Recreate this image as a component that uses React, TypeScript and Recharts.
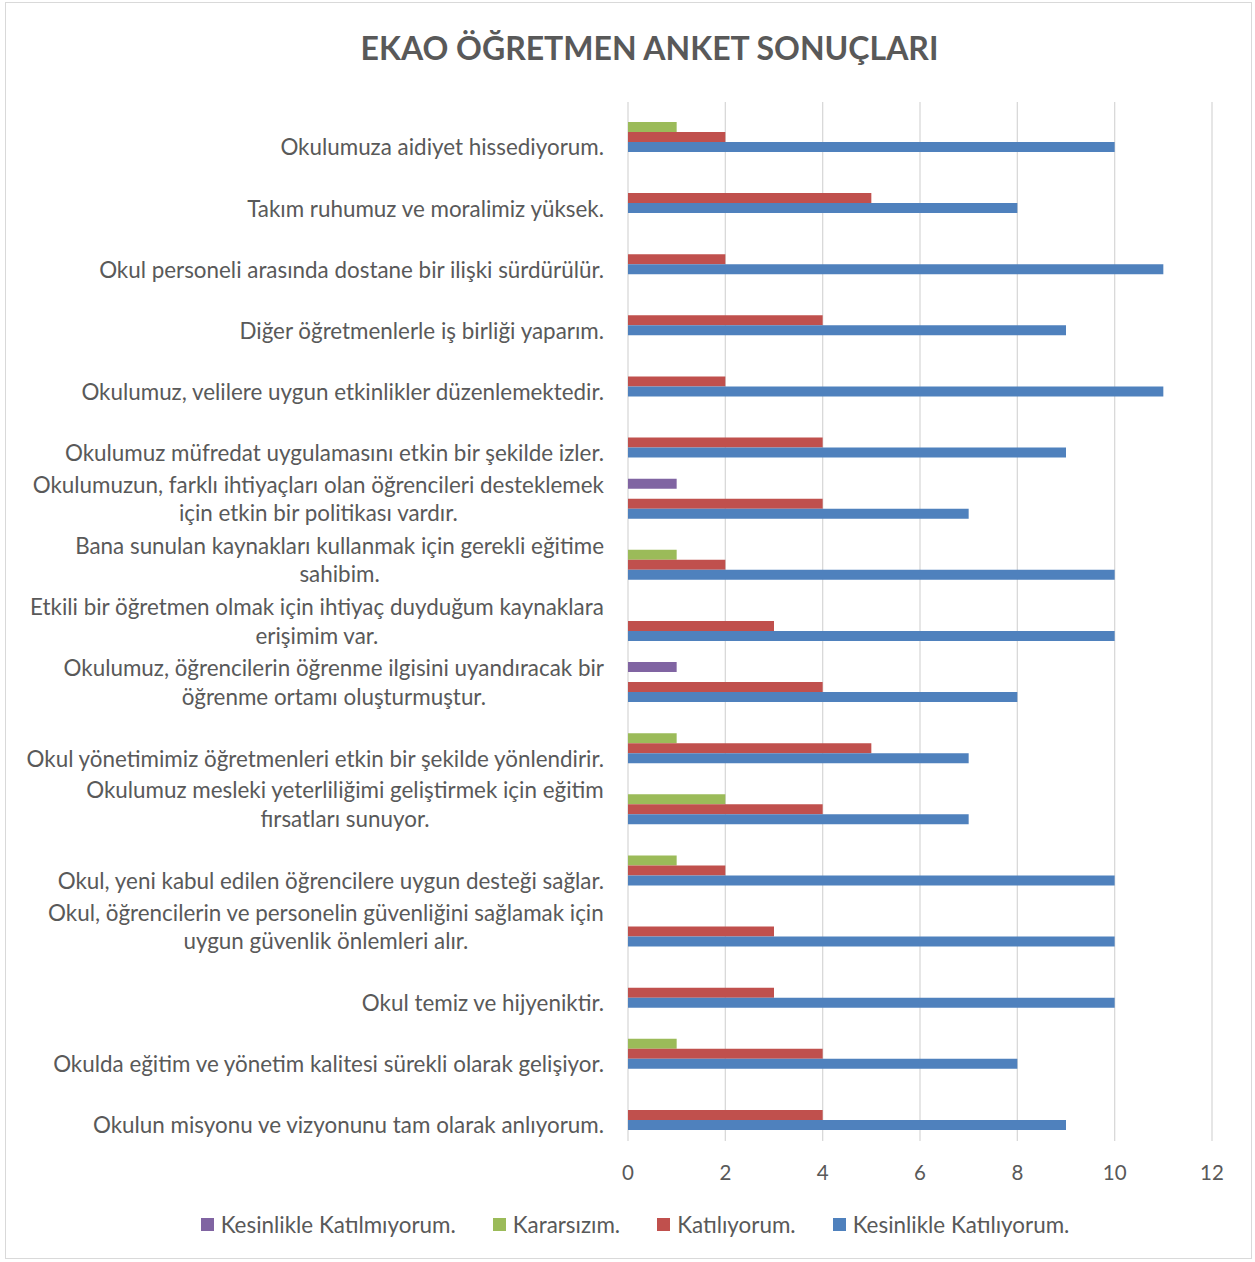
import React from 'react';
import { BarChart, Bar, XAxis, YAxis, CartesianGrid, Legend } from 'recharts';

// Categories, top to bottom as drawn
const categories: string[] = [
  'Okulumuza aidiyet hissediyorum.',
  'Takım ruhumuz ve moralimiz yüksek.',
  'Okul personeli arasında dostane bir ilişki sürdürülür.',
  'Diğer öğretmenlerle iş birliği yaparım.',
  'Okulumuz, velilere uygun etkinlikler düzenlemektedir.',
  'Okulumuz müfredat uygulamasını etkin bir şekilde izler.',
  'Okulumuzun, farklı ihtiyaçları olan öğrencileri desteklemek\niçin etkin bir politikası vardır.',
  'Bana sunulan kaynakları kullanmak için gerekli eğitime\nsahibim.',
  'Etkili bir öğretmen olmak için ihtiyaç duyduğum kaynaklara\nerişimim var.',
  'Okulumuz, öğrencilerin öğrenme ilgisini uyandıracak bir\nöğrenme ortamı oluşturmuştur.',
  'Okul yönetimimiz öğretmenleri etkin bir şekilde yönlendirir.',
  'Okulumuz mesleki yeterliliğimi geliştirmek için eğitim\nfırsatları sunuyor.',
  'Okul, yeni kabul edilen öğrencilere uygun desteği sağlar.',
  'Okul, öğrencilerin ve personelin güvenliğini sağlamak için\nuygun güvenlik önlemleri alır.',
  'Okul temiz ve hijyeniktir.',
  'Okulda eğitim ve yönetim kalitesi sürekli olarak gelişiyor.',
  'Okulun misyonu ve vizyonunu tam olarak anlıyorum.',
];

const kesinlikleKatiliyorum: number[] = [10, 8, 11, 9, 11, 9, 7, 10, 10, 8, 7, 7, 10, 10, 10, 8, 9];
const katiliyorum: number[] = [2, 5, 2, 4, 2, 4, 4, 2, 3, 4, 5, 4, 2, 3, 3, 4, 4];
const kararsizim: number[] = [1, 0, 0, 0, 0, 0, 0, 1, 0, 0, 1, 2, 1, 0, 0, 1, 0];
const kesinlikleKatilmiyorum: number[] = [0, 0, 0, 0, 0, 0, 1, 0, 0, 1, 0, 0, 0, 0, 0, 0, 0];

const xTicks: number[] = [0, 2, 4, 6, 8, 10, 12];

const seriesNames = {
  km: 'Kesinlikle Katılmıyorum.',
  ka: 'Kararsızım.',
  k: 'Katılıyorum.',
  kk: 'Kesinlikle Katılıyorum.',
};
const legendOrder: string[] = [seriesNames.km, seriesNames.ka, seriesNames.k, seriesNames.kk];

const title = 'EKAO ÖĞRETMEN ANKET SONUÇLARI';

const data = categories.map((name, i) => ({
  name,
  km: kesinlikleKatilmiyorum[i],
  ka: kararsizim[i],
  k: katiliyorum[i],
  kk: kesinlikleKatiliyorum[i],
}));

const FONT = 'Lato, "Liberation Sans", sans-serif';
const TEXT = '#595959';
const LABEL_SIZE = 22.4;
const LABEL_RIGHT = 604;

let ctx: CanvasRenderingContext2D | null = null;
function measure(s: string, size: number): number {
  if (!ctx) ctx = document.createElement('canvas').getContext('2d');
  if (!ctx) return s.length * size * 0.5;
  ctx.font = `${size}px Lato`;
  return ctx.measureText(s).width;
}

function CategoryTick(props: any) {
  const { y, payload } = props;
  const lines = String(payload.value).split('\n');
  if (lines.length === 1) {
    return (
      <text x={LABEL_RIGHT} y={y + 15} dy="0.35em" textAnchor="end" fill={TEXT} fontSize={LABEL_SIZE} fontFamily={FONT}>
        {lines[0]}
      </text>
    );
  }
  const w = Math.max(...lines.map((l) => measure(l, LABEL_SIZE)));
  const cx = LABEL_RIGHT - w / 2;
  return (
    <text textAnchor="middle" fill={TEXT} fontSize={LABEL_SIZE} fontFamily={FONT}>
      {lines.map((l, i) => (
        <tspan key={i} x={cx} y={y + (i - (lines.length - 1) / 2) * 28.5} dy="0.35em">
          {l}
        </tspan>
      ))}
    </text>
  );
}

function LegendContent(props: any) {
  const payload = [...(props.payload || [])].sort(
    (a: any, b: any) => legendOrder.indexOf(a.value) - legendOrder.indexOf(b.value)
  );
  return (
    <div
      style={{
        height: 48,
        display: 'flex',
        justifyContent: 'center',
        alignItems: 'center',
        gap: 37,
        fontFamily: FONT,
        fontSize: 22.4,
        color: TEXT,
        paddingLeft: 58,
        boxSizing: 'border-box',
      }}
    >
      {payload.map((e: any) => (
        <div key={e.value} style={{ display: 'flex', alignItems: 'center' }}>
          <span style={{ display: 'inline-block', width: 13, height: 13, background: e.color, marginRight: 7 }} />
          <span>{e.value}</span>
        </div>
      ))}
    </div>
  );
}

export default function App() {
  return (
    <div style={{ position: 'absolute', left: 0, top: 0, width: 1255, height: 1262, background: '#fff' }}>
      <div
        style={{
          position: 'absolute',
          left: 5,
          top: 2,
          width: 1247,
          height: 1257,
          border: '1px solid #D9D9D9',
          boxSizing: 'border-box',
        }}
      />
      <div
        style={{
          position: 'absolute',
          left: 44,
          top: 28,
          width: 1211,
          textAlign: 'center',
          fontFamily: FONT,
          fontWeight: 700,
          fontSize: 32,
          color: TEXT,
          lineHeight: '40px',
        }}
      >
        {title}
      </div>
      <BarChart
        width={1255}
        height={1262}
        data={data}
        layout="vertical"
        margin={{ top: 102, right: 43, bottom: 14, left: 0 }}
        barCategoryGap={10}
        barGap={0}
      >
        <CartesianGrid horizontal={false} stroke="#D9D9D9" strokeWidth={1.3} />
        <XAxis
          type="number"
          domain={[0, 12]}
          ticks={xTicks}
          axisLine={false}
          tickLine={false}
          tickSize={0}
          tickMargin={24}
          height={59}
          tick={{ fill: TEXT, fontSize: 20.5, fontFamily: FONT }}
          interval={0}
        />
        <YAxis
          type="category"
          dataKey="name"
          width={628}
          axisLine={false}
          tickLine={false}
          tick={<CategoryTick />}
          interval={0}
        />
        <Legend verticalAlign="bottom" content={<LegendContent />} />
        <Bar dataKey="km" name={seriesNames.km} fill="#8064A2" isAnimationActive={false} />
        <Bar dataKey="ka" name={seriesNames.ka} fill="#9BBB59" isAnimationActive={false} />
        <Bar dataKey="k" name={seriesNames.k} fill="#C0504D" isAnimationActive={false} />
        <Bar dataKey="kk" name={seriesNames.kk} fill="#4F81BD" isAnimationActive={false} />
      </BarChart>
    </div>
  );
}
